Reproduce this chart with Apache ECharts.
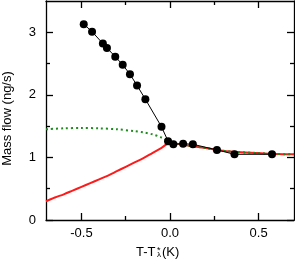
<!DOCTYPE html>
<html><head><meta charset="utf-8">
<script src="https://cdn.jsdelivr.net/npm/echarts@6/dist/echarts.min.js"></script>
<style>html,body{margin:0;padding:0;background:#fff}#c{width:295px;height:260px}</style>
</head><body><div id="c"></div>
<script>
// Measured data (black points)
var measX = [-0.487,-0.440,-0.379,-0.356,-0.309,-0.267,-0.226,-0.186,-0.139,-0.048,-0.011,0.019,0.074,0.129,0.265,0.364,0.576];
var measY = [3.13,3.01,2.82,2.75,2.61,2.48,2.33,2.15,1.93,1.49,1.26,1.21,1.22,1.21,1.12,1.05,1.05];
// Red model curve
var redX = [-0.7,-0.65,-0.6,-0.55,-0.5,-0.45,-0.4,-0.35,-0.3,-0.25,-0.2,-0.15,-0.1,-0.05,0,0.1,0.2,0.265,0.364,0.5,0.6,0.7];
var redY = [0.30,0.36,0.41,0.47,0.53,0.59,0.65,0.71,0.78,0.85,0.92,0.99,1.07,1.15,1.23,1.19,1.15,1.12,1.09,1.07,1.055,1.05];
// Green dotted curve
var greenX = [-0.7,-0.6,-0.5,-0.4,-0.3,-0.2,-0.15,-0.1,-0.05,0,0.1,0.2,0.265,0.364,0.5,0.6,0.7];
var greenY = [1.45,1.465,1.47,1.465,1.45,1.42,1.40,1.37,1.32,1.25,1.19,1.15,1.12,1.09,1.07,1.055,1.05];
// Tick labels
var xTicks = [-0.5,0,0.5];
var xMinor = [-0.25,0.25];
var yTicks = [0,1,2,3];
var yMinor = [0.5,1.5,2.5];

function zip(a,b){return a.map(function(v,i){return [v,b[i]];});}
var FONT = 'Liberation Sans, Arial, sans-serif';
function xAx(pos, vals, len, showLine, showLabel){
  return {type:'value', position:pos, min:-0.7, max:0.7, scale:true,
    axisLine:{show:showLine, onZero:false, lineStyle:{color:'#000', width:1.3}},
    axisTick:{show:true, inside:true, length:len, customValues:vals, lineStyle:{color:'#000', width:1.3}},
    axisLabel:{show:showLabel, customValues:vals, margin:7, color:'#000', fontSize:13, fontFamily:FONT,
      formatter:function(v){return v===0?'0.0':(v<0?'-'+Math.abs(v):String(v));}},
    splitLine:{show:false}};
}
function yAx(pos, vals, len, showLine, showLabel){
  return {type:'value', position:pos, min:0, max:3.5,
    axisLine:{show:showLine, onZero:false, lineStyle:{color:'#000', width:1.3}},
    axisTick:{show:true, inside:true, length:len, customValues:vals, lineStyle:{color:'#000', width:1.3}},
    axisLabel:{show:showLabel, customValues:vals, margin:10, color:'#000', fontSize:13, fontFamily:FONT},
    splitLine:{show:false}};
}

var chart = echarts.init(document.getElementById('c'), null, {renderer:'canvas'});
chart.setOption({
  animation:false,
  grid:{left:46, right:1, top:1, bottom:40, containLabel:false},
  xAxis:[xAx('bottom', xTicks, 7, true, true), xAx('bottom', xMinor, 4, false, false),
         xAx('top', xTicks, 7, true, false), xAx('top', xMinor, 4, false, false)],
  yAxis:[yAx('left', yTicks, 7, true, true), yAx('left', yMinor, 4, false, false),
         yAx('right', yTicks, 7, true, false), yAx('right', yMinor, 4, false, false)],
  series:[
    {type:'line', data:zip(redX, redY), smooth:0.3, showSymbol:false, symbol:'none',
     lineStyle:{color:'#ff1a1a', width:2}, z:2},
    {type:'line', data:zip(greenX, greenY), smooth:0.3, showSymbol:false, symbol:'none',
     lineStyle:{color:'#1e8c1e', width:2, type:[2,3]}, z:3},
    {type:'line', data:zip(measX, measY), symbol:'circle', symbolSize:8,
     itemStyle:{color:'#000'}, lineStyle:{color:'#000', width:1}, z:4}
  ],
  graphic:[
    {type:'text', x:7, y:118.5, rotation:Math.PI/2,
     style:{text:'Mass flow (ng/s)', font:'13px '+FONT, fill:'#000', align:'center', verticalAlign:'middle'}},
    {type:'text', left:136, top:246, style:{text:'T-T', font:'13px '+FONT, fill:'#000'}},
    {type:'text', left:157, top:246, style:{text:'*', font:'9px '+FONT, fill:'#000'}},
    {type:'text', left:157, top:251, style:{text:'\u03bb', font:'8px '+FONT, fill:'#000'}},
    {type:'text', left:162, top:246, style:{text:'(K)', font:'13px '+FONT, fill:'#000'}}
  ]
});
</script></body></html>
